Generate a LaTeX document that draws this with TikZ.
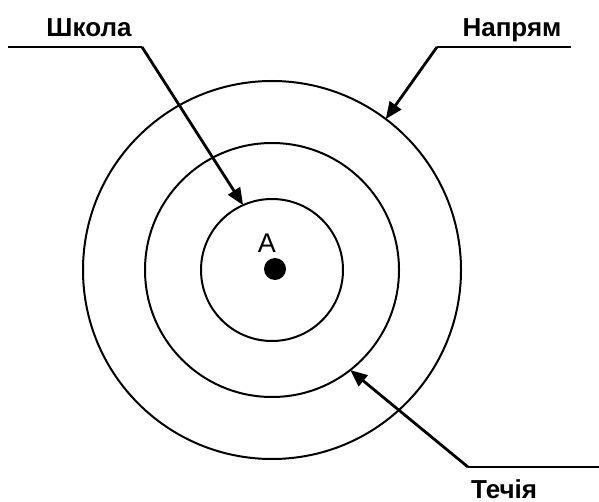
\documentclass[tikz,border=0pt]{standalone}
\usepackage{fontspec}
\setmainfont{Liberation Sans}
\usetikzlibrary{arrows.meta}
\begin{document}
\begin{tikzpicture}[x=1pt,y=-1pt,
  ring/.style={draw,circle,line width=2pt,inner sep=0pt,outer sep=0pt},
  lbl/.style={font=\fontsize{26}{30}\selectfont\bfseries,inner sep=0pt},
  pointer/.style={line width=2.8pt,-{Triangle[length=17pt,width=14pt]}},
  underline/.style={line width=2pt}]
\useasboundingbox (0,0) rectangle (599,502);
\node[ring,minimum size=378pt] (outer) at (272,270) {};
\node[ring,minimum size=254pt] (middle) at (272,270) {};
\node[ring,minimum size=142pt] (inner) at (272,270) {};
\node[fill,circle,inner sep=0pt,minimum size=22pt] (dot) at (275,269) {};
\node[font=\fontsize{27}{30}\selectfont,inner sep=0pt] (A) at (267,243) {A};
\node[lbl,anchor=base] (school) at (89,37) {Школа};
\node[lbl,anchor=base] (dir) at (512,37) {Напрям};
\node[lbl,anchor=base west] (flow) at (471,498) {Течія};
\coordinate (s1) at (8,47);
\coordinate (s2) at (142,47);
\coordinate (d1) at (437,47);
\coordinate (d2) at (571,47);
\coordinate (f1) at (468,467);
\coordinate (f2) at (599,467);
\draw[underline] (s1) -- (s2);
\draw[underline] (d1) -- (d2);
\draw[underline] (f1) -- (f2);
\draw[pointer] (s2) -- (inner.114);
\draw[pointer] (d1) -- (outer.53);
\draw[pointer] (f1) -- (middle.-52);
\end{tikzpicture}
\end{document}
